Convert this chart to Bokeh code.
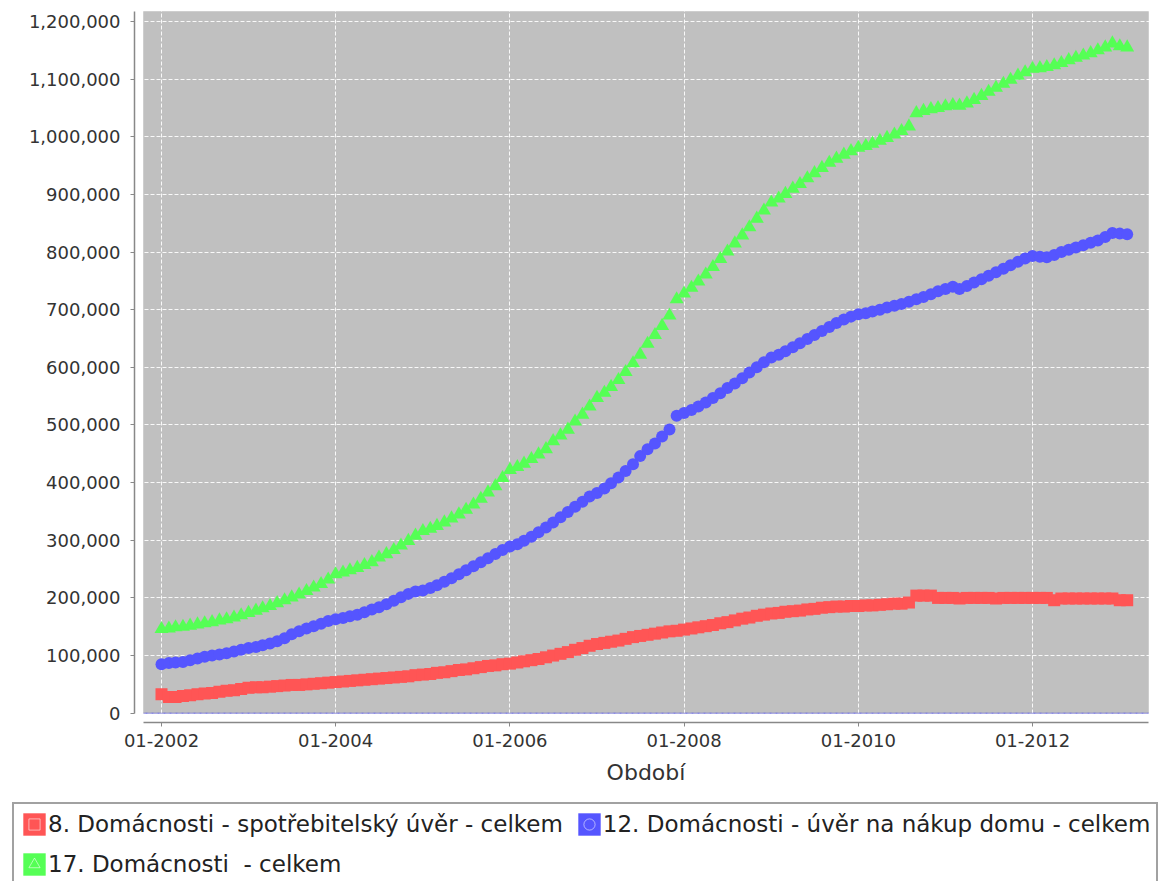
import pandas as pd
from bokeh.plotting import figure
from bokeh.models import (ColumnDataSource, FixedTicker, DatetimeTickFormatter,
                          NumeralTickFormatter, BoxAnnotation, Legend,
                          LegendItem, Range1d)
from bokeh.core.properties import value
from bokeh.embed import file_html
from bokeh.resources import INLINE

# ---------------- data (monthly, Jan 2002 .. Feb 2013), values in thousands ----------------
first_month = "2002-01-01"
n_months = 134

series_names = [
    "8. Domácnosti - spotřebitelský úvěr - celkem",
    "12. Domácnosti - úvěr na nákup domu - celkem",
    "17. Domácnosti  - celkem",
]

spotrebitelsky_uver = [
    33, 28, 28, 30, 31, 33, 34, 35, 37, 39, 40, 42,            # 2002
    44, 45, 45, 46, 47, 48, 49, 49, 50, 51, 52, 53,            # 2003
    54, 55, 56, 57, 58, 59, 60, 61, 62, 63, 64, 66,            # 2004
    67, 68, 70, 71, 73, 75, 76, 78, 80, 82, 83, 85,            # 2005
    86, 88, 90, 92, 94, 97, 100, 103, 106, 110, 113, 117,      # 2006
    120, 122, 124, 126, 129, 132, 134, 136, 138, 140, 142, 143,  # 2007
    145, 147, 149, 151, 153, 156, 158, 161, 164, 166, 169, 171,  # 2008
    173, 174, 176, 177, 178, 180, 181, 183, 184, 185, 185, 186,  # 2009
    186, 187, 187, 188, 189, 190, 190, 192, 204, 204, 204, 200,  # 2010
    200, 200, 199, 200, 200, 200, 200, 199, 200, 200, 200, 200,  # 2011
    200, 200, 200, 196, 199, 199, 199, 199, 199, 199, 199, 199,  # 2012
    196, 196,                                                    # 2013
]

uver_na_bydleni = [
    85, 87, 88, 89, 92, 95, 98, 100, 102, 104, 107, 110,
    113, 115, 118, 121, 125, 130, 137, 142, 147, 151, 155, 160,
    163, 165, 168, 171, 175, 180, 184, 189, 195, 201, 207, 211,
    213, 217, 222, 228, 234, 241, 248, 255, 262, 269, 276, 283,
    289, 293, 299, 306, 314, 322, 331, 340, 349, 358, 367, 376,
    382, 390, 399, 409, 420, 432, 446, 458, 468, 480, 492, 516,
    521, 526, 532, 539, 547, 555, 564, 572, 581, 591, 600, 609,
    617, 622, 628, 635, 642, 649, 656, 663, 670, 677, 683, 688,
    692, 694, 697, 700, 704, 707, 710, 714, 718, 722, 727, 732,
    736, 740, 736, 741, 747, 753, 759, 765, 771, 777, 783, 789,
    793, 792, 791, 795, 800, 804, 808, 812, 816, 820, 826, 833,
    832, 831,
]

domacnosti_celkem = [
    146, 147, 149, 150, 152, 154, 156, 158, 161, 163, 166, 170,
    174, 178, 182, 186, 191, 196, 201, 206, 212, 218, 224, 232,
    241, 244, 248, 252, 257, 262, 270, 276, 283, 291, 299, 308,
    316, 320, 325, 331, 338, 345, 353, 362, 372, 383, 394, 408,
    422, 427, 433, 441, 449, 458, 472, 482, 492, 506, 518, 532,
    547, 556, 566, 578, 592, 607, 622, 641, 656, 672, 690, 718,
    728, 738, 749, 761, 774, 788, 801, 815, 829, 843, 858, 872,
    886, 893, 901, 910, 918, 928, 937, 946, 955, 962, 969, 975,
    981, 984, 988, 993, 998, 1004, 1010, 1018, 1041, 1045, 1048, 1050,
    1053, 1055, 1054, 1058, 1064, 1071, 1078, 1085, 1092, 1099, 1106, 1112,
    1118, 1119, 1121, 1124, 1128, 1133, 1137, 1141, 1145, 1150, 1155, 1162,
    1157, 1155,
]

x_tick_dates = ["2002-01-01", "2004-01-01", "2006-01-01",
                "2008-01-01", "2010-01-01", "2012-01-01"]
y_ticks = [0, 100000, 200000, 300000, 400000, 500000, 600000,
           700000, 800000, 900000, 1000000, 1100000, 1200000]
x_axis_title = "Období"

colors = ["#FF5555", "#5555FF", "#55FF55"]
markers = ["square", "circle", "triangle"]
marker_sizes = [12, 12, 14]

# ---------------- layout geometry (pixels of the 1176x881 canvas) ----------------
W, H = 1176, 881
PX_PER_DAY = 871.0 / 3652.0          # two-year tick spacing 174 px
PX_PER_UNIT = 691.7 / 1200000.0      # 0 .. 1.2M spans 691.7 px
X0_PX, Y0_PX = 161.0, 712.7          # position of Jan-2002 and of value 0
AREA_L, AREA_R, AREA_T = 143.0, 1148.0, 11.0
YAXIS_PX, XAXIS_PX = 134.0, 722.0

DAY = 86400000.0

def ms(ts):
    return pd.Timestamp(ts).value / 1e6

def xdata(px):
    return ms(first_month) + (px - X0_PX) / PX_PER_DAY * DAY

def ydata(py):
    return (Y0_PX - py) / PX_PER_UNIT

months = pd.date_range(first_month, periods=n_months, freq="MS")
xs = [m.value / 1e6 for m in months]

p = figure(width=W, height=H, x_axis_type="datetime",
           x_range=Range1d(xdata(0), xdata(W)), y_range=Range1d(ydata(H), ydata(0)),
           output_backend="svg", toolbar_location=None,
           min_border_left=0, min_border_right=0, min_border_top=0,
           min_border_bottom=0,
           background_fill_color="white", border_fill_color="white")
p.outline_line_color = None

# plot area (gray) with outline
p.add_layout(BoxAnnotation(left=xdata(AREA_L), right=xdata(AREA_R), bottom=0,
                           top=ydata(AREA_T), fill_color="#C0C0C0",
                           fill_alpha=1.0, line_color="#A8A8A8", line_width=1,
                           level="image"))

# grid, limited to the plot area
p.xgrid.ticker = FixedTicker(ticks=[ms(d) for d in x_tick_dates])
p.ygrid.ticker = FixedTicker(ticks=y_ticks)
p.xgrid.bounds = (0, ydata(AREA_T))
p.ygrid.bounds = (xdata(AREA_L), xdata(AREA_R))
for g in (p.xgrid, p.ygrid):
    g.grid_line_color = "white"
    g.grid_line_dash = "4 2"
    g.grid_line_width = 1
    g.grid_line_alpha = 0.9

# zero baseline (thin dashed blue)
p.add_layout(BoxAnnotation(left=xdata(AREA_L), right=xdata(AREA_R), bottom=0, top=0,
                           fill_alpha=0, line_color="#7777DD", line_dash="4 2",
                           line_width=1, line_alpha=0.8, level="underlay"))

# axes at fixed positions
xa = p.xaxis[0]
xa.fixed_location = ydata(XAXIS_PX)
xa.ticker = FixedTicker(ticks=[ms(d) for d in x_tick_dates])
fmt = "%m-%Y"
xa.formatter = DatetimeTickFormatter(years=fmt, months=fmt, days=fmt, hours=fmt,
                                     hourmin=fmt, minutes=fmt, minsec=fmt,
                                     seconds=fmt, milliseconds=fmt,
                                     microseconds=fmt)
xa.bounds = (xdata(AREA_L), xdata(AREA_R))
xa.axis_label = x_axis_title
xa.axis_label_text_font = "DejaVu Sans"
xa.axis_label_text_font_size = "22px"
xa.axis_label_text_font_style = "normal"
xa.axis_label_text_color = "#333333"
xa.axis_label_standoff = 10
xa.major_label_standoff = 7

ya = p.yaxis[0]
ya.fixed_location = xdata(YAXIS_PX)
ya.ticker = FixedTicker(ticks=y_ticks)
ya.formatter = NumeralTickFormatter(format="0,0")
ya.bounds = (0, ydata(AREA_T))
ya.major_label_standoff = 10

for ax in (xa, ya):
    ax.axis_line_color = "#888888"
    ax.axis_line_width = 1.5
    ax.major_tick_line_color = "#888888"
    ax.major_tick_out = 4
    ax.major_tick_in = 0
    ax.minor_tick_out = 0
    ax.minor_tick_in = 0
    ax.major_label_text_font = "DejaVu Sans"
    ax.major_label_text_font_size = "18px"
    ax.major_label_text_color = "#333333"

# series
all_series = [spotrebitelsky_uver, uver_na_bydleni, domacnosti_celkem]
items = []
for name, vals, col, mk, sz in zip(series_names, all_series, colors,
                                   markers, marker_sizes):
    yv = [v * 1000 for v in vals]
    # legend-only helpers: zero-size copies of the first point (hidden under it)
    bg = p.quad(left=xs[:1], right=xs[:1], top=yv[:1], bottom=yv[:1],
                fill_color=col, line_color=None)
    icon = p.scatter(x=xs[:1], y=yv[:1], marker=mk, size=0, fill_color=col,
                     line_color="white", line_alpha=0.55, line_width=1)
    src = ColumnDataSource(dict(x=xs, y=yv))
    p.scatter("x", "y", source=src, marker=mk, size=sz,
              fill_color=col, line_color=None)
    items.append(LegendItem(label=value(name), renderers=[bg, icon]))

legend = Legend(items=items, location=(12, -5), orientation="horizontal",
                ncols=2, padding=6, spacing=12, margin=0,
                glyph_width=28, glyph_height=28,
                label_height=28, label_standoff=0,
                label_text_font="DejaVu Sans", label_text_font_size="23px",
                label_text_color="#222222",
                border_line_color="#444444", border_line_width=2,
                background_fill_color="white", background_fill_alpha=1.0)
p.add_layout(legend)

open("out.html", "w").write(file_html(p, INLINE))
